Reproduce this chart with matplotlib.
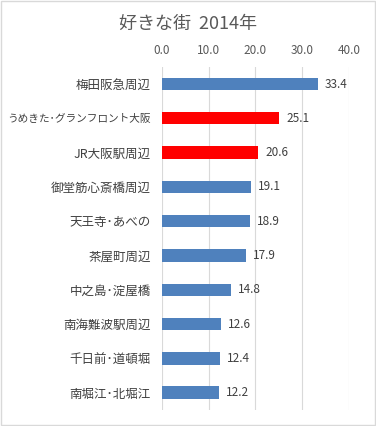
import matplotlib
matplotlib.use("Agg")
import matplotlib.pyplot as plt
from matplotlib.patches import Rectangle
import numpy as np

plt.rcParams['font.family'] = ['Noto Sans CJK JP', 'DejaVu Sans']

places = ["梅田阪急周辺", "うめきた･グランフロント大阪", "JR大阪駅周辺", "御堂筋心斎橋周辺",
          "天王寺･あべの", "茶屋町周辺", "中之島･淀屋橋", "南海難波駅周辺",
          "千日前･道頓堀", "南堀江･北堀江"]
scores = [33.4, 25.1, 20.6, 19.1, 18.9, 17.9, 14.8, 12.6, 12.4, 12.2]
highlight = [False, True, True, False, False, False, False, False, False, False]
xticks = [0, 10, 20, 30, 40]

fig = plt.figure(figsize=(3.76, 4.26), dpi=100)
ax = fig.add_axes([0.431, 0.038, 0.497, 0.805])

y = np.arange(len(places))
colors = ["#FF0000" if h else "#4F81BD" for h in highlight]
bars = ax.barh(y, scores, height=0.36, color=colors, zorder=3)

ax.set_ylim(len(places) - 0.5, -0.5)
ax.set_xlim(0, 40)
ax.set_xticks(xticks)
ax.set_xticklabels([f"{t:.1f}" for t in xticks])
ax.xaxis.tick_top()
ax.tick_params(axis='x', length=0, labelsize=8.5, labelcolor="#595959", pad=7)
ax.set_yticks(y)
ax.set_yticklabels(places)
ax.tick_params(axis='y', length=0, labelsize=9, labelcolor="#404040", pad=8)
# the long label has to shrink to fit the left margin
for lab in ax.get_yticklabels():
    if len(lab.get_text()) > 10:
        lab.set_fontsize(7.7)
ax.grid(axis='x', color="#D9D9D9", linewidth=0.8, zorder=0)
for s in ax.spines.values():
    s.set_visible(False)

for b, v in zip(bars, scores):
    ax.annotate(f"{v:.1f}", (b.get_width(), b.get_y() + b.get_height() / 2),
                xytext=(5, 0), textcoords="offset points", va="center",
                fontsize=8.5, color="#404040")

fig.text(0.5, 0.945, "好きな街  2014年", ha="center", va="center",
         fontsize=13, color="#595959")
fig.patches.append(Rectangle((0.003, 0.003), 0.994, 0.994, transform=fig.transFigure,
                             fill=False, edgecolor="#D9D9D9", linewidth=1))

fig.savefig("out.png", dpi=100)
